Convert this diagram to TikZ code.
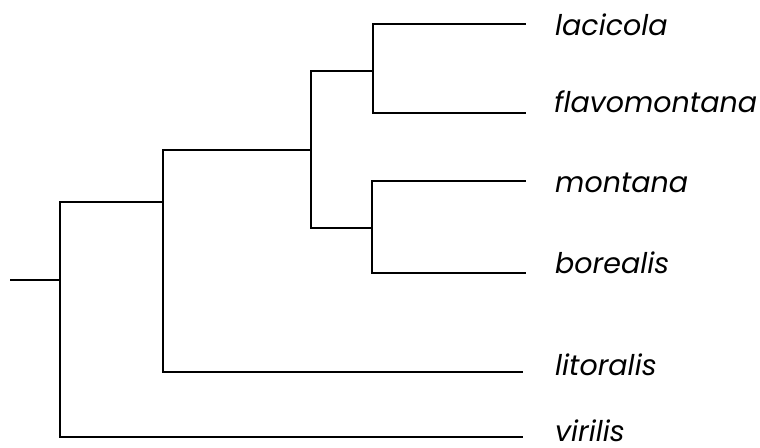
\documentclass[tikz,border=0pt]{standalone}
\usepackage{fontspec}
\setmainfont{Poppins}
\begin{document}
\begin{tikzpicture}[x=1pt,y=-1pt,
  branch/.style={line width=1.1pt, line cap=rect},
  stem/.style={line width=1.6pt},
  taxon/.style={anchor=base west, inner sep=0pt, text depth=0pt,
    font=\fontsize{28.5}{31}\selectfont\itshape}]
\useasboundingbox (0,0) rectangle (760,447);
% internal nodes (entry points of each branch)
\coordinate (base) at (10,280);
\coordinate (n0) at (60,280);
\coordinate (n1) at (163,202);
\coordinate (n2) at (311,150);
\coordinate (n3) at (373,71);
\coordinate (n4) at (372,228);
% tips
\coordinate (lac) at (525,24);
\coordinate (fla) at (525,113);
\coordinate (mon) at (525,181);
\coordinate (bor) at (525,273);
\coordinate (lit) at (522,372);
\coordinate (vir) at (522,437);
% branches
\draw[stem] (base) -- (n0);
\draw[branch] (n0) |- (n1);
\draw[branch] (n0) |- (vir);
\draw[branch] (n1) |- (n2);
\draw[branch] (n1) |- (lit);
\draw[branch] (n2) |- (n3);
\draw[branch] (n2) |- (n4);
\draw[branch] (n3) |- (lac);
\draw[branch] (n3) |- (fla);
\draw[branch] (n4) |- (mon);
\draw[branch] (n4) |- (bor);
% taxon labels
\node[taxon] (tlac) at (555,35) {lacicola};
\node[taxon] (tfla) at (554,112) {flavomontana};
\node[taxon] (tmon) at (555,192) {montana};
\node[taxon] (tbor) at (555,273) {borealis};
\node[taxon] (tlit) at (555,375) {litoralis};
\node[taxon] (tvir) at (555,441) {virilis};
\end{tikzpicture}
\end{document}
